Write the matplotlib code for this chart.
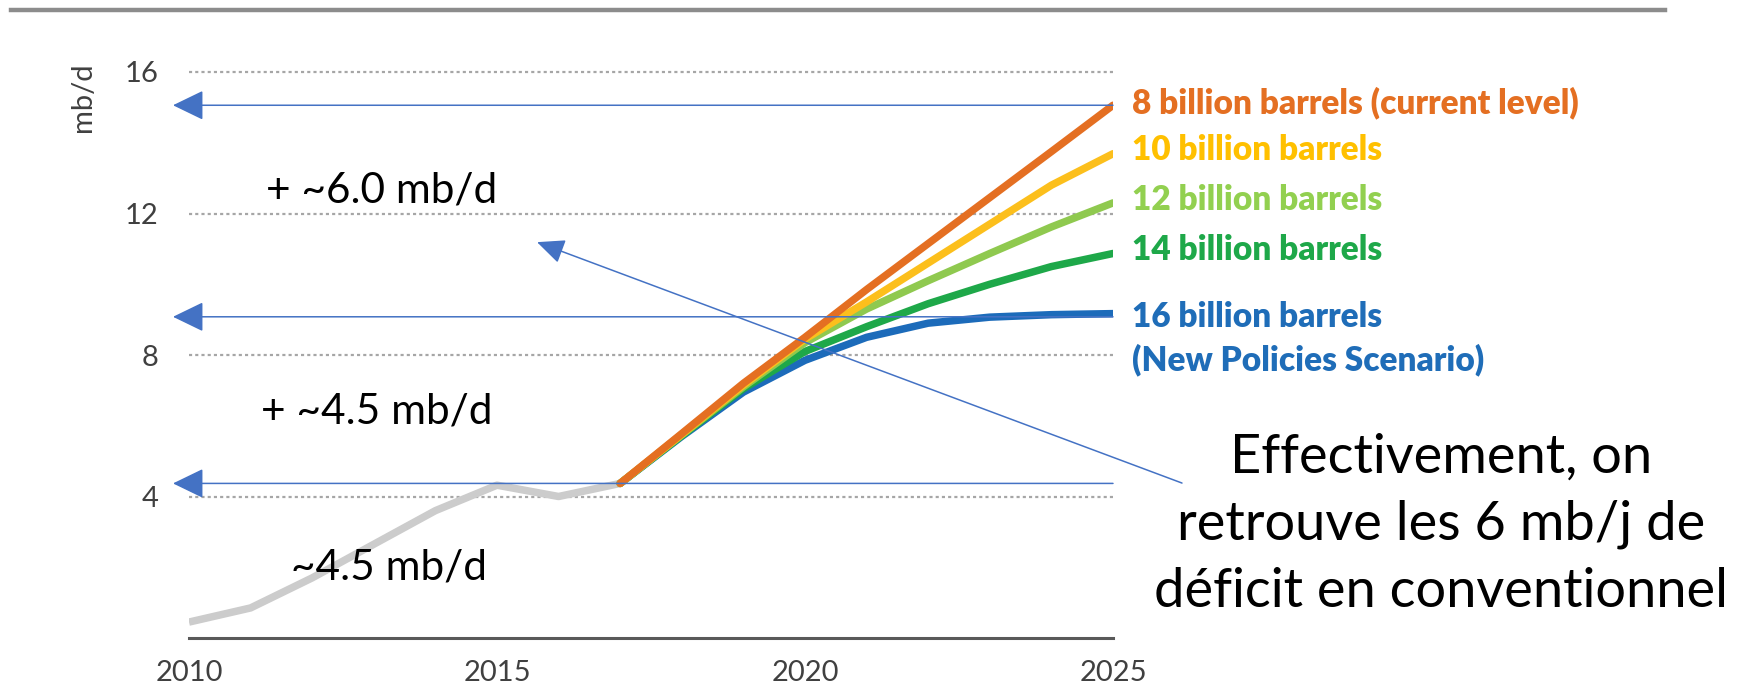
import matplotlib
matplotlib.use("Agg")
import matplotlib.pyplot as plt
from matplotlib.lines import Line2D

plt.rcParams["font.family"] = ["Lato", "DejaVu Sans"]

# --- data -----------------------------------------------------------------
years_hist = [2010, 2011, 2012, 2013, 2014, 2015, 2016, 2017]
hist = [0.45, 0.85, 1.7, 2.65, 3.6, 4.32, 4.0, 4.37]

years_proj = [2017, 2018, 2019, 2020, 2021, 2022, 2023, 2024, 2025]
s8 = [4.37, 5.78, 7.2, 8.5, 9.85, 11.15, 12.45, 13.75, 15.06]
s10 = [4.37, 5.76, 7.15, 8.45, 9.5, 10.6, 11.7, 12.8, 13.69]
s12 = [4.37, 5.74, 7.1, 8.35, 9.3, 10.1, 10.87, 11.62, 12.3]
s14 = [4.37, 5.72, 7.05, 8.1, 8.8, 9.45, 10.0, 10.5, 10.87]
s16 = [4.37, 5.7, 6.95, 7.85, 8.5, 8.9, 9.07, 9.14, 9.17]

scenario_labels = [
    "8 billion barrels (current level)",
    "10 billion barrels",
    "12 billion barrels",
    "14 billion barrels",
    "16 billion barrels\n(New Policies Scenario)",
]
scenario_colors = ["#E46F22", "#FCBF1C", "#8FC94F", "#1EA849", "#1C6BBA"]
label_colors = ["#E46F22", "#FFC000", "#92D050", "#1EA849", "#1F6DB8"]
label_y = [15.14, 13.79, 12.37, 10.96, 8.46]

arrow_levels = [15.06, 9.08, 4.37]

x_ticks = [2010, 2015, 2020, 2025]
y_ticks = [4, 8, 12, 16]

# --- figure ---------------------------------------------------------------
fig = plt.figure(figsize=(17.44, 6.9), dpi=100)
ax = fig.add_axes([189 / 1744, 1 - 638 / 690, (1113 - 189) / 1744, (638 - 72) / 690])
ax.set_xlim(2010, 2025)
ax.set_ylim(0, 16)

# dotted horizontal grid
for yv in y_ticks:
    ax.axhline(yv, color="#A6A6A6", lw=1.6, dashes=(1.4, 1.4), zorder=1, clip_on=False)

for sp in ["top", "right", "left"]:
    ax.spines[sp].set_visible(False)
ax.spines["bottom"].set_color("#595959")
ax.spines["bottom"].set_linewidth(2.2)

ax.set_xticks(x_ticks)
ax.set_yticks(y_ticks)
ax.tick_params(axis="both", length=0, labelsize=21, labelcolor="#404040")
ax.tick_params(axis="x", pad=16)
ax.tick_params(axis="y", pad=22)
ax.set_ylabel("mb/d", fontsize=21, color="#404040")
ax.yaxis.set_label_coords(-93 / 924, 0.955)

# historical line
ax.plot(years_hist, hist, color="#CCCCCC", lw=5.4, solid_capstyle="butt", zorder=3)

# scenario lines (lowest first so the steepest sits on top)
series = [s8, s10, s12, s14, s16]
for vals, col in reversed(list(zip(series, scenario_colors))):
    ax.plot(years_proj, vals, color=col, lw=5.4, solid_capstyle="round",
            solid_joinstyle="round", zorder=4)

for txt, col, yv in zip(scenario_labels, label_colors, label_y):
    ax.text(2025.31, yv, txt, color=col, fontsize=24, fontweight="heavy",
            ha="left", va="center", linespacing=1.37, clip_on=False)

# horizontal level arrows
arrow_kw = dict(arrowstyle="-|>,head_length=0.97,head_width=0.47",
                mutation_scale=20, color="#4472C4", lw=1.1,
                shrinkA=0, shrinkB=0)
for lv in arrow_levels:
    ax.annotate("", xy=(2009.74, lv), xytext=(2025, lv),
                arrowprops=arrow_kw, annotation_clip=False, zorder=5)

# diagonal arrow from the comment to the chart
ax.annotate("", xy=(2015.65, 11.19), xytext=(2026.12, 4.38),
            arrowprops=dict(arrowstyle="-|>,head_length=0.85,head_width=0.38",
                            mutation_scale=20, color="#4472C4", lw=1.1,
                            shrinkA=0, shrinkB=0),
            annotation_clip=False, zorder=5)

# increment annotations
ax.text(2013.12, 12.66, "+ ~6.0 mb/d", fontsize=30.5, ha="center", va="center", color="black")
ax.text(2013.04, 6.41, "+ ~4.5 mb/d", fontsize=30.5, ha="center", va="center", color="black")
ax.text(2013.25, 2.0, "~4.5 mb/d", fontsize=30.5, ha="center", va="center", color="black")

# comment block
fig.text(1441 / 1744, 1 - 524 / 690,
         "Effectivement, on\nretrouve les 6 mb/j de\ndéficit en conventionnel",
         fontsize=39, ha="center", va="center", linespacing=1.45, color="black")

# rule across the top
fig.add_artist(Line2D([11 / 1744, 1665 / 1744], [1 - 10 / 690, 1 - 10 / 690],
                      color="#8C8C8C", lw=3.2))

fig.savefig("out.png", dpi=100)
